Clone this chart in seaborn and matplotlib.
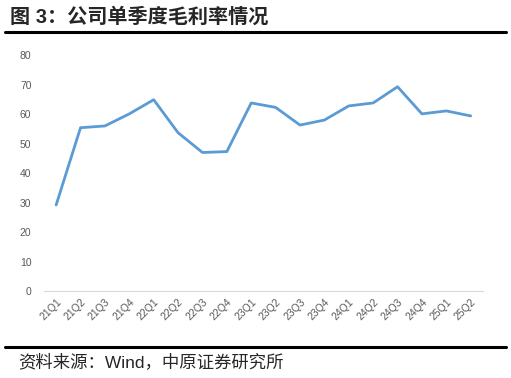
import pandas as pd
import seaborn as sns
import matplotlib.pyplot as plt

quarters = ['21Q1', '21Q2', '21Q3', '21Q4', '22Q1', '22Q2', '22Q3', '22Q4', '23Q1',
            '23Q2', '23Q3', '23Q4', '24Q1', '24Q2', '24Q3', '24Q4', '25Q1', '25Q2']
gross_margin = [29.2, 55.4, 56.0, 60.1, 64.9, 53.7, 47.0, 47.3, 63.8,
                62.3, 56.3, 58.0, 62.8, 63.8, 69.3, 60.1, 61.1, 59.4]
yticks = [0, 10, 20, 30, 40, 50, 60, 70, 80]

df = pd.DataFrame({'quarter': quarters, 'margin': gross_margin})

sns.set_style('white')
plt.rcParams['font.family'] = ['Liberation Sans', 'Noto Sans CJK SC', 'DejaVu Sans']

fig = plt.figure(figsize=(5.11, 3.78), dpi=100)
ax = fig.add_axes([0.086, 0.230, 0.859, 0.624])

sns.lineplot(data=df, x='quarter', y='margin', ax=ax, color='#5B9BD5', linewidth=2.0, sort=False)

ax.set_xlim(-0.5, len(quarters) - 0.5)
ax.set_ylim(0, 80)
ax.set_yticks(yticks)
ax.set_xlabel('')
ax.set_ylabel('')
ax.tick_params(axis='both', length=0, labelsize=7.5, labelcolor='#595959')
ax.tick_params(axis='y', pad=9)
ax.tick_params(axis='x', pad=4)
plt.setp(ax.get_xticklabels(), rotation=45, ha='right', rotation_mode='anchor')
for s in ['top', 'right', 'left']:
    ax.spines[s].set_visible(False)
ax.spines['bottom'].set_color('#D9D9D9')
ax.spines['bottom'].set_linewidth(0.8)

# header and footer
fig.text(0.02, 0.955, '图 3：公司单季度毛利率情况', fontsize=14.5, fontweight='bold', va='center')
fig.add_artist(plt.Line2D([0.01, 0.99], [0.915, 0.915], color='black', linewidth=2.2))
fig.add_artist(plt.Line2D([0.01, 0.99], [0.082, 0.082], color='black', linewidth=2.2))
fig.text(0.035, 0.042, '资料来源：Wind，中原证券研究所', fontsize=12.5, va='center')

plt.savefig('out.png', dpi=100)
